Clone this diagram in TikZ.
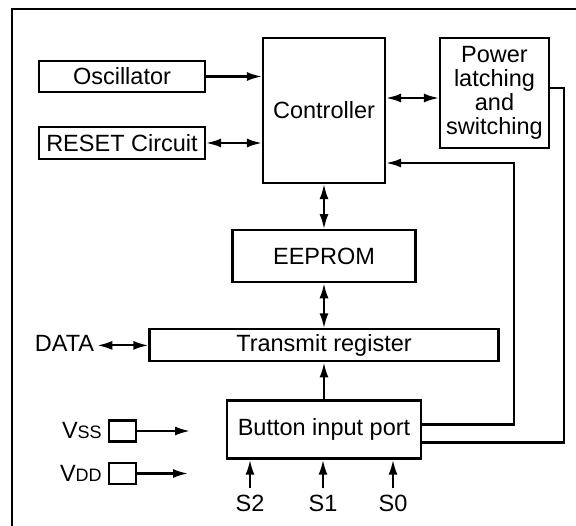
\documentclass[tikz,border=0pt]{standalone}
\usepackage{fontspec}
\setmainfont{Liberation Sans}
\usetikzlibrary{arrows.meta,positioning}
\tikzset{
  block/.style={draw, line width=2.2pt, inner sep=0pt, align=center},
  pad/.style={draw, line width=2.2pt, inner sep=0pt, minimum width=27pt, minimum height=21pt},
  pinlabel/.style={inner sep=3pt},
  siglabel/.style={inner sep=6pt},
  wire/.style={line width=2.2pt},
}
\newcommand{\SubCaps}[1]{{\fontsize{18}{18}\selectfont #1}}

\begin{document}
\begin{tikzpicture}[x=1pt, y=-1pt, font=\fontsize{23.5}{24}\selectfont, >={Latex[length=15pt,width=9pt]}]
			\useasboundingbox (0,0) rectangle (576,526);
			% Frame
			\draw[wire] (576,9) -| (12,526);

			% Define nodes
			\node[block, minimum width=122pt, minimum height=145pt] (ctrl) at (324,110.5) {Controller};
			\node[block, minimum width=166pt, minimum height=31pt] (osc) at (122,76.5) {Oscillator};
			\node[block, minimum width=166pt, minimum height=32pt] (reset) at (122,143) {RESET Circuit};
			\node[block, minimum width=109pt, minimum height=110pt] (power) at (494.5,93) {Power\\latching\\and\\switching};
			\node[block, minimum width=183pt, minimum height=52pt, below=45pt of ctrl] (eeprom) {EEPROM};
			\node[block, minimum width=349pt, minimum height=32pt, below=45pt of eeprom] (tx) {Transmit register};
			\node[block, minimum width=194pt, minimum height=58pt, below=37pt of tx] (btn) {Button input port};
			\node[pinlabel] (data) at (64.5,343) {DATA};

			\node[pad] (vss) at (122.5,431) {};
			\node[pad] (vdd) at (122.5,473.5) {};
			\node[pinlabel, left=3pt of vss] (vsslbl) {V\SubCaps{SS}};
			\node[pinlabel, left=3pt of vdd] (vddlbl) {V\SubCaps{DD}};
			\coordinate (vssend) at (190,431);
			\coordinate (vddend) at (188,473.5);

			\node[siglabel] (s2) at (250,503) {S2};
			\node[siglabel] (s1) at (323,503) {S1};
			\node[siglabel] (s0) at (393,503) {S0};

			\coordinate (cp) at ([yshift=12.5pt]ctrl.east);
			\coordinate (fb) at ([yshift=-52.5pt]ctrl.east);
			\coordinate (pl) at ([yshift=5pt]power.east);

			% Connect the nodes
			\draw[wire,->] (osc.east) -- (osc.east -| ctrl.west);
			\draw[wire,<->] (reset.east) -- (reset.east -| ctrl.west);
			\draw[wire,<->] (cp) -- (cp -| power.west);
			\draw[wire,<->] (ctrl.south) -- (ctrl.south |- eeprom.north);
			\draw[wire,<->] (eeprom.south) -- (eeprom.south |- tx.north);
			\draw[wire,->] (btn.north) -- (btn.north |- tx.south);
			\draw[wire,<->] (tx.west -| data.east) -- (tx.west);
			\draw[wire,->] ([yshift=5pt]btn.east) -- ++(92,0) |- (fb);
			\draw[wire] ([yshift=-13pt]btn.east) -- ++(142,0) |- (pl);
			\draw[wire,->] (vss.east) -- (vssend);
			\draw[wire,->] (vdd.east) -- (vddend);
			\foreach \s in {s2,s1,s0}
				\draw[wire,->] (\s.north) -- (\s.north |- btn.south);
		\end{tikzpicture}
\end{document}
